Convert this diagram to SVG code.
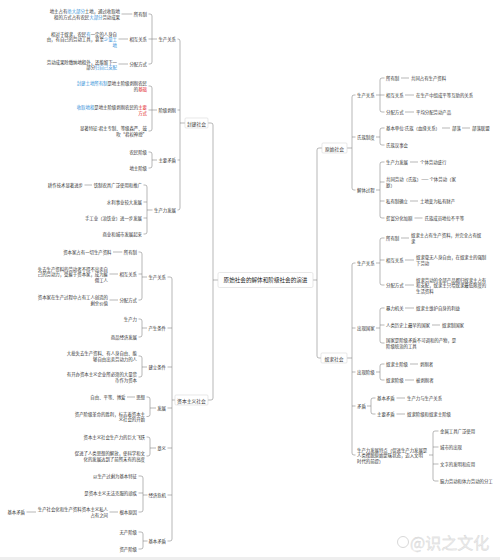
<svg xmlns="http://www.w3.org/2000/svg" width="500" height="560" viewBox="0 0 500 560">
<style>
text{font-family:"Noto Sans CJK SC","Noto Sans",sans-serif;font-size:4.4px;fill:#333;dominant-baseline:central}
.e{text-anchor:end}
.m{text-anchor:middle}
.b{fill:#2f8fd8}
.r{fill:#e2231a}
.c path{stroke:#888;stroke-width:0.6;fill:none}
.box{fill:#fff;stroke:#d8d8d8;stroke-width:0.6}
.h{font-size:5.6px;fill:#222}
.k{font-size:4.8px}
.wm{font-size:16px;fill:#ececec;stroke:#d4d4d4;stroke-width:0.35}
</style>
<rect width="500" height="560" fill="#fff"/>
<rect x="0" y="557" width="500" height="3" fill="#eee"/>

<g id="connectors" class="c">
<path d="M208,123 H211 Q213,123 213,125 V398 Q213,400 211,400 H208 M213,280 H218"/>
<path d="M177.5,39 H178 Q180,39 180,41 V208 Q180,210 178,210 H177.5 M177.5,110 H180 M177.5,160 H180 M180,123 H185"/>
<path d="M148.5,14 H150 Q152,14 152,16 V62 Q152,64 150,64 H148.5 M148.5,39 H157"/>
<path d="M121.5,14 H132.3 M118.5,39 H128 M118.5,64 H128"/>
<path d="M148.5,86 H150 Q152,86 152,88 V129 Q152,131 150,131 H148.5 M148.5,110 H157"/>
<path d="M148.5,152 H150 Q152,152 152,154 V166 Q152,168 150,168 H148.5 M152,160 H157"/>
<path d="M143.5,185 H145 Q147,185 147,187 V232 Q147,234 145,234 H143.5 M143.5,202 H147 M143.5,218 H147 M147,210 H152.5 M84.5,185 H92"/>
<path d="M167.5,277 H170 Q172,277 172,279 V539 Q172,541 170,541 H167.5 M167.5,328 H172 M167.5,367 H172 M167.5,408 H172 M167.5,448 H172 M167.5,495 H172 M172,400 H175"/>
<path d="M138.5,252 H140 Q142,252 142,254 V298 Q142,300 140,300 H138.5 M138.5,274 H142 M142,277 H147 M113,252 H122.3 M109.5,274 H118 M109.5,300 H118"/>
<path d="M138.5,319 H140 Q142,319 142,321 V335 Q142,337 140,337 H138.5 M142,328 H147"/>
<path d="M138.5,356 H140 Q142,356 142,358 V375 Q142,377 140,377 H138.5 M142,367 H147"/>
<path d="M146.5,397 H148 Q150,397 150,399 V414.5 Q150,416.5 148,416.5 H146.5 M150,408 H156 M127,397 H135"/>
<path d="M146.5,437 H148 Q150,437 150,439 V454 Q150,456 148,456 H146.5 M150,448 H156"/>
<path d="M138.5,476 H141 Q143,476 143,478 V510 Q143,512 141,512 H138.5 M138.5,493 H143 M143,495 H147.5 M109.5,512 H118 M26.5,512 H36"/>
<path d="M138.5,532 H141 Q143,532 143,534 V547 Q143,549 141,549 H138.5 M143,541 H147.5"/>
<path d="M322,148 H319 Q317,148 317,150 V356 Q317,358 319,358 H321 M313,280 H317"/>
<path d="M355.5,95 H354 Q352,95 352,97 V188 Q352,190 354,190 H355.5 M352,137 H355.5 M347,148 H352"/>
<path d="M384.5,78 H382 Q380,78 380,80 V110 Q380,112 382,112 H384.5 M376,95 H384.5 M401,78 H409 M405,95 H414 M405,112 H414"/>
<path d="M384.5,128 H382 Q380,128 380,130 V143 Q380,145 382,145 H384.5 M376,137 H380 M442,128 H450 M462,128 H470"/>
<path d="M384.5,162 H382 Q380,162 380,164 V216 Q380,218 382,218 H384.5 M384.5,182 H380 M384.5,201 H380 M376,190 H380 M410,162 H418 M410,201 H418 M414.5,218 H422.5"/>
<path d="M355.5,263 H354 Q352,263 352,265 V453 Q352,455 354,455 H355.5 M352,328 H355.5 M352,372 H355.5 M352,406 H355.5 M347,358 H352"/>
<path d="M384.5,238 H382 Q380,238 380,240 V283 Q380,285 382,285 H384.5 M384.5,260 H380 M376,263 H380 M401,238 H409 M405,260 H414 M405,285 H414"/>
<path d="M384.5,308 H382 Q380,308 380,310 V341 Q380,343 382,343 H384.5 M384.5,325 H380 M376,328 H380 M405,308 H414 M432,325 H440"/>
<path d="M384.5,364 H382 Q380,364 380,366 V378 Q380,380 382,380 H384.5 M376,372 H380 M410,364 H418 M405,380 H414"/>
<path d="M375.5,398 H373 Q371,398 371,400 V412 Q371,414 373,414 H375.5 M367,406 H371 M396.5,398 H405 M396.5,414 H405"/>
<path d="M438.5,431 H435 Q433,431 433,433 V479 Q433,481 435,481 H438.5 M438.5,447 H433 M438.5,464 H433 M429,455 H433"/>
</g>

<g id="n-center"><rect class="box" x="218" y="272.5" width="95" height="15" rx="1.5"/><text class="m h" x="265.5" y="280">原始社会的解体和阶级社会的演进</text></g>

<g id="n-fengjian"><rect class="box" x="185" y="118" width="23" height="10" rx="1"/><text class="m k" x="196.5" y="123">封建社会</text></g>
<g id="fj-scgx"><text class="e" x="176" y="39">生产关系</text></g>
<g id="fj-syz"><text class="e" x="147" y="14">所有制</text><text class="e" x="120" y="11">地主占有<tspan class="b">绝大部分</tspan>土地，通过收取地</text><text class="e" x="120" y="16.5">租的方式占有农民<tspan class="b">大部分</tspan>劳动成果</text></g>
<g id="fj-xhgx"><text class="e" x="147" y="39">相互关系</text><text class="e" x="117" y="33.5">相对于奴隶，农民<tspan class="b">有</tspan>一定的人身自</text><text class="e" x="117" y="39">由，有自己的劳动工具，甚至<tspan class="b">少量土</tspan></text><text class="e b" x="117" y="44.5">地</text></g>
<g id="fj-fpfs"><text class="e" x="147" y="64">分配方式</text><text class="e" x="117" y="61.5">劳动成果除缴纳地租外，还能留下一</text><text class="e" x="117" y="67">部分<tspan class="b">归自己支配</tspan></text></g>
<g id="fj-jjbx"><text class="e" x="176" y="110">阶级剥削</text></g>
<g id="fj-jjbx-1"><text class="e" x="147" y="83.25"><tspan class="b">封建土地所有制</tspan>是地主阶级剥削农民</text><text class="e" x="147" y="88.75">的<tspan class="r">基础</tspan></text></g>
<g id="fj-jjbx-2"><text class="e" x="147" y="107.25"><tspan class="b">收取地租</tspan>是地主阶级剥削农民的<tspan class="r">主要</tspan></text><text class="e r" x="147" y="112.75">方式</text></g>
<g id="fj-jjbx-3"><text class="e" x="147" y="128.25">显著特征:君主专制、等级森严、鼓</text><text class="e" x="147" y="133.75">吹“君权神授”</text></g>
<g id="fj-zymd"><text class="e" x="176" y="160">主要矛盾</text><text class="e" x="147" y="152">农民阶级</text><text class="e" x="147" y="168">地主阶级</text></g>
<g id="fj-sclfz"><text class="e" x="176" y="210">生产力发展</text></g>
<g id="fj-sclfz-1"><text class="e" x="142" y="185">铁制农具广泛使用和推广</text><text class="e" x="83" y="185">耕作技术显著进步</text></g>
<g id="fj-sclfz-2"><text class="e" x="142" y="202">水利事业较大发展</text></g>
<g id="fj-sclfz-3"><text class="e" x="142" y="218">手工业（冶铁业）进一步发展</text></g>
<g id="fj-sclfz-4"><text class="e" x="142" y="234">商业和城市发展起来</text></g>

<g id="n-ziben"><rect class="box" x="175" y="395" width="33" height="10" rx="1"/><text class="m k" x="191.5" y="400">资本主义社会</text></g>
<g id="zb-scgx"><text class="e" x="166" y="277">生产关系</text></g>
<g id="zb-syz"><text class="e" x="137" y="252">所有制</text><text class="e" x="111.5" y="252">资本家占有一切生产资料</text></g>
<g id="zb-xhgx"><text class="e" x="137" y="274">相互关系</text><text class="e" x="108" y="268.5">失去生产资料的劳动者不得不出卖自</text><text class="e" x="108" y="274">己的劳动力，受雇于资本家，成为雇</text><text class="e" x="108" y="279.5">佣工人</text></g>
<g id="zb-fpfs"><text class="e" x="137" y="300">分配方式</text><text class="e" x="108" y="297.25">资本家在生产过程中占有工人创造的</text><text class="e" x="108" y="302.75">剩余价值</text></g>
<g id="zb-cstj"><text class="e" x="166" y="328">产生条件</text><text class="e" x="137" y="319">生产力</text><text class="e" x="137" y="337">商品经济发展</text></g>
<g id="zb-jltj"><text class="e" x="166" y="367">建立条件</text><text class="e" x="137" y="353.25">大批失去生产资料、有人身自由、能</text><text class="e" x="137" y="358.75">够自由出卖劳动力的人</text><text class="e" x="137" y="374.25">有开办资本主义企业所必须的大量货</text><text class="e" x="137" y="379.75">币作为资本</text></g>
<g id="zb-fz"><text class="e" x="166" y="408">发展</text><text class="e" x="145" y="397">思想</text><text class="e" x="125.5" y="397">自由、平等、博爱</text><text class="e" x="145" y="413.75">资产阶级革命的胜利，标志着资本主</text><text class="e" x="145" y="419.25">义社会的开始</text></g>
<g id="zb-yy"><text class="e" x="166" y="448">意义</text><text class="e" x="145" y="437">资本主义社会生产力的巨大飞跃</text><text class="e" x="145" y="453.25">促进了人类思想的解放，使科学和文</text><text class="e" x="145" y="458.75">化的发展达到了前所未有的高度</text></g>
<g id="zb-jjwj"><text class="e" x="166" y="495">经济危机</text><text class="e" x="137" y="476">以生产过剩为基本特征</text><text class="e" x="137" y="493">是资本主义无法克服的顽疾</text><text class="e" x="137" y="512">根本原因</text><text class="e" x="108" y="509.25">生产社会化和生产资料资本主义私人</text><text class="e" x="108" y="514.75">占有之间</text><text class="e" x="25" y="512">基本矛盾</text></g>
<g id="zb-jbmd"><text class="e" x="166" y="541">基本矛盾</text><text class="e" x="137" y="532">无产阶级</text><text class="e" x="137" y="549">资产阶级</text></g>

<g id="n-yuanshi"><rect class="box" x="322" y="143" width="25" height="10" rx="1"/><text class="m k" x="334.5" y="148">原始社会</text></g>
<g id="ys-scgx"><text x="357" y="95">生产关系</text><text x="386" y="78">所有制</text><text x="411" y="78">共同占有生产资料</text><text x="386" y="95">相互关系</text><text x="416" y="95">在生产中组成平等互助的关系</text><text x="386" y="112">分配方式</text><text x="416" y="112">平均分配劳动产品</text></g>
<g id="ys-szzd"><text x="357" y="137">氏族制度</text><text x="386" y="128">基本单位:氏族（血缘关系）</text><text x="452" y="128">部落</text><text x="472" y="128">部落联盟</text><text x="386" y="145">氏族议事会</text></g>
<g id="ys-jtgc"><text x="357" y="190">解体过程</text><text x="386" y="162">生产力发展</text><text x="420" y="162">个体劳动盛行</text><text x="386" y="179.25">共同劳动（氏族）—— 个体劳动（家</text><text x="386" y="184.75">庭）</text><text x="386" y="201">私有制确立</text><text x="420" y="201">土地变为私有财产</text><text x="386" y="218">贫富分化加剧</text><text x="424.5" y="218">氏族成员地位不平等</text></g>

<g id="n-nuli"><rect class="box" x="321" y="353" width="26" height="10" rx="1"/><text class="m k" x="334" y="358">奴隶社会</text></g>
<g id="nl-scgx"><text x="357" y="263">生产关系</text><text x="386" y="238">所有制</text><text x="411" y="235.25">奴隶主占有生产资料，并完全占有奴</text><text x="411" y="240.75">隶</text><text x="386" y="260">相互关系</text><text x="416" y="257.25">奴隶毫无人身自由，在奴隶主的强制</text><text x="416" y="262.75">下劳动</text><text x="386" y="285">分配方式</text><text x="416" y="279.5">奴隶劳动的全部产品都归奴隶主占有</text><text x="416" y="285">和支配，奴隶主只给奴隶最低限度的</text><text x="416" y="290.5">生活资料</text></g>
<g id="nl-cxgj"><text x="357" y="328">出现国家</text><text x="386" y="308">暴力机关</text><text x="416" y="308">奴隶主维护自身的利益</text><text x="386" y="325">人类历史上最早的国家</text><text x="442" y="325">奴隶制国家</text><text x="386" y="340.25">国家是阶级矛盾不可调和的产物，是</text><text x="386" y="345.75">阶级统治的工具</text></g>
<g id="nl-cxjj"><text x="357" y="372">出现阶级</text><text x="386" y="364">奴隶主阶级</text><text x="420" y="364">剥削者</text><text x="386" y="380">奴隶阶级</text><text x="416" y="380">被剥削者</text></g>
<g id="nl-md"><text x="357" y="406">矛盾</text><text x="377" y="398">基本矛盾</text><text x="407" y="398">生产力与生产关系</text><text x="377" y="414">主要矛盾</text><text x="407" y="414">奴隶阶级和奴隶主阶级</text></g>
<g id="nl-scl"><text x="357" y="449.5">生产力发展特点（促进生产力发展是</text><text x="357" y="455">人类摆脱原始蒙昧状态，迈入文明</text><text x="357" y="460.5">时代的前提）</text><text x="440" y="431">金属工具广泛使用</text><text x="440" y="447">城市的出现</text><text x="440" y="464">文字的发明和应用</text><text x="440" y="481">脑力劳动和体力劳动的分工</text></g>

<g id="watermark"><circle cx="403" cy="542" r="5.5" fill="none" stroke="#d8d8d8" stroke-width="1"/><text class="wm" x="410" y="542">@识之文化</text></g>
</svg>
